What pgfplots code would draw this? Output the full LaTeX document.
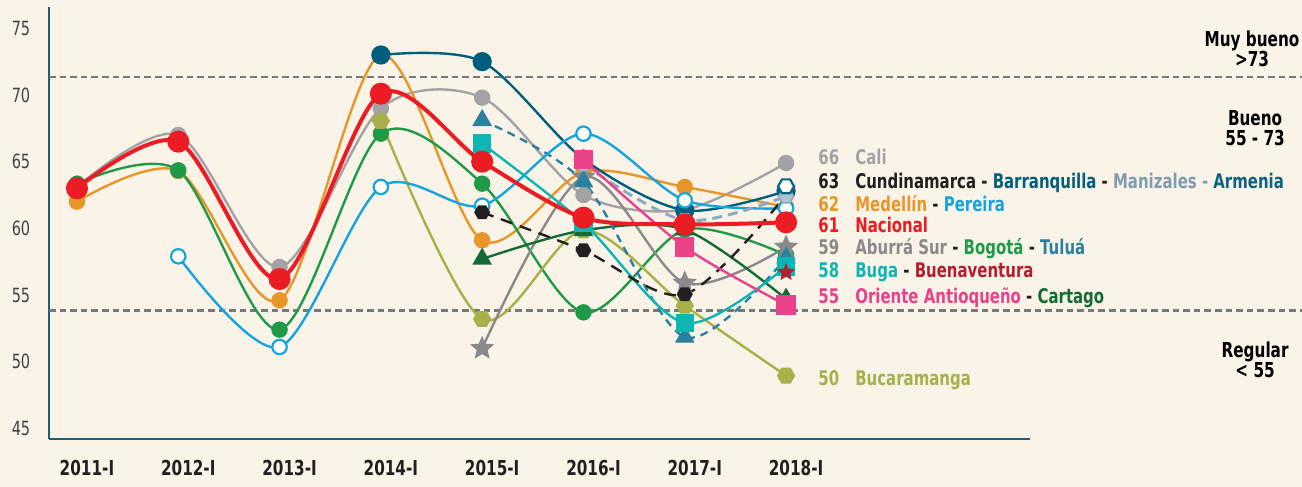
\documentclass[border=0pt]{standalone}
\usepackage{pgfplots}
\pgfplotsset{compat=1.18}
\usepackage{fontspec}
\setmainfont{DejaVu Sans}[FakeStretch=0.74]
\usetikzlibrary{plotmarks}

\definecolor{bgc}{HTML}{FAF4E8}
\definecolor{axisc}{HTML}{1D5E78}
\definecolor{dashg}{HTML}{77787B}
\definecolor{txt}{HTML}{231F20}
\definecolor{nac}{HTML}{EC1C24}
\definecolor{cali}{HTML}{A3A3A5}
\definecolor{med}{HTML}{E8952A}
\definecolor{per}{HTML}{16A4DD}
\definecolor{bog}{HTML}{1F9A49}
\definecolor{barr}{HTML}{005E7E}
\definecolor{cund}{HTML}{231F20}
\definecolor{mani}{HTML}{8FAAC0}
\definecolor{maniT}{HTML}{7E9DB4}
\definecolor{arme}{HTML}{0E6383}
\definecolor{abu}{HTML}{8A8A8C}
\definecolor{tul}{HTML}{2B7FA0}
\definecolor{buga}{HTML}{0DB5B5}
\definecolor{buen}{HTML}{B41E2E}
\definecolor{ori}{HTML}{EA4189}
\definecolor{cart}{HTML}{156A36}
\definecolor{buc}{HTML}{A9AF4A}

\pgfdeclareplotmark{hexagon*}{%
  \pgfpathmoveto{\pgfpointpolar{0}{\pgfplotmarksize}}%
  \pgfpathlineto{\pgfpointpolar{60}{\pgfplotmarksize}}%
  \pgfpathlineto{\pgfpointpolar{120}{\pgfplotmarksize}}%
  \pgfpathlineto{\pgfpointpolar{180}{\pgfplotmarksize}}%
  \pgfpathlineto{\pgfpointpolar{240}{\pgfplotmarksize}}%
  \pgfpathlineto{\pgfpointpolar{300}{\pgfplotmarksize}}%
  \pgfpathclose\pgfusepathqfillstroke}
\pgfdeclareplotmark{fstar}{%
  \pgfpathmoveto{\pgfpointpolar{90}{\pgfplotmarksize}}%
  \pgfpathlineto{\pgfpointpolar{126}{0.45\pgfplotmarksize}}%
  \pgfpathlineto{\pgfpointpolar{162}{\pgfplotmarksize}}%
  \pgfpathlineto{\pgfpointpolar{198}{0.45\pgfplotmarksize}}%
  \pgfpathlineto{\pgfpointpolar{234}{\pgfplotmarksize}}%
  \pgfpathlineto{\pgfpointpolar{270}{0.45\pgfplotmarksize}}%
  \pgfpathlineto{\pgfpointpolar{306}{\pgfplotmarksize}}%
  \pgfpathlineto{\pgfpointpolar{342}{0.45\pgfplotmarksize}}%
  \pgfpathlineto{\pgfpointpolar{18}{\pgfplotmarksize}}%
  \pgfpathlineto{\pgfpointpolar{54}{0.45\pgfplotmarksize}}%
  \pgfpathclose\pgfusepathqfillstroke}

\newcommand{\lgfont}{\fontsize{10.1bp}{11bp}\selectfont\bfseries}
\tikzset{lgn/.style={anchor=west, inner sep=0pt, text height=7.5bp, text depth=0pt, font=\lgfont, text=txt}}

\begin{document}
\begin{tikzpicture}
\fill[bgc] (-24.5bp,-24bp) rectangle (626.5bp,219.5bp);
\begin{axis}[
  at={(0,0)}, anchor=south west,
  scale only axis, width=490.5bp, height=216bp,
  xmin=-0.276, xmax=9.408, ymin=44.2, ymax=76.6,
  clip=false,
  axis x line*=bottom, axis y line*=left,
  axis line style={draw=axisc, line width=0.9bp, -},
  xtick={0,...,7},
  xticklabels={2011-I,2012-I,2013-I,2014-I,2015-I,2016-I,2017-I,2018-I},
  ytick={45,50,55,60,65,70,75},
  major tick length=0pt,
  /pgf/number format/assume math mode=true,
  xticklabel style={anchor=center, inner sep=0pt, text height=7.5bp, text depth=0pt,
     yshift=-14.5bp, xshift=5bp, font=\fontsize{10.3bp}{11bp}\selectfont\bfseries, text=txt},
  yticklabel style={anchor=center, inner sep=0pt, xshift=-14bp,
     font=\fontsize{9.8bp}{11bp}\selectfont, text=txt!85},
  every axis plot/.append style={smooth, tension=0.5, line width=1.2bp},
]
% reference lines
\addplot[dashg, line width=1.3bp, dash pattern=on 3.3bp off 2bp, sharp plot, no marks] coordinates {(-0.276,71.35) (12.2,71.35)};
\addplot[dashg, line width=1.3bp, dash pattern=on 3.3bp off 2bp, sharp plot, no marks] coordinates {(-0.276,53.85) (12.2,53.85)};

% Cali
\addplot[cali, mark=*, mark size=3.5bp, mark options={fill=cali, draw=cali}] coordinates {(0,63.1)(1,67.0)(2,57.1)(3,69.0)(4,69.8)(5,62.5)(6,61.4)(7,64.9)};
% Medellin
\addplot[med, mark=*, mark size=3.5bp, mark options={fill=med, draw=med}] coordinates {(0,62.0)(1,64.3)(2,54.6)(3,73.0)(4,59.1)(5,64.2)(6,63.1)(7,61.6)};
% Bogota
\addplot[bog, mark=*, mark size=3.5bp, mark options={fill=bog, draw=bog}] coordinates {(0,63.35)(1,64.35)(2,52.4)(3,67.1)(4,63.35)(5,53.7)(6,59.9)(7,58.0)};
% Bucaramanga
\addplot[buc, mark=hexagon*, mark size=3.9bp, mark options={fill=buc, draw=buc}] coordinates {(3,68.05)(4,53.2)(5,59.85)(6,54.2)(7,48.95)};
% Barranquilla
\addplot[barr, mark=*, mark size=4.2bp, mark options={fill=barr, draw=barr}] coordinates {(3,73.0)(4,72.5)(5,65.2)(6,61.35)(7,62.8)};
% Aburra Sur
\addplot[abu, mark=fstar, mark size=4.8bp, mark options={fill=abu, draw=abu}] coordinates {(4,51.0)(5,63.85)(6,55.9)(7,58.6)};
% Cartago
\addplot[cart, mark=triangle*, mark size=4.5bp, mark options={fill=cart, draw=cart}] coordinates {(4,57.7)(5,59.85)(6,59.9)(7,54.7)};
% Tulua
\addplot[tul, dash pattern=on 4bp off 3bp, mark=triangle*, mark size=4.5bp, mark options={solid, fill=tul, draw=tul}] coordinates {(4,68.1)(5,63.5)(6,51.85)(7,57.8)};
% Buga
\addplot[buga, mark=square*, mark size=4bp, mark options={fill=buga, draw=buga}] coordinates {(4,66.35)(5,60.4)(6,52.9)(7,57.15)};
% Pereira
\addplot[per, mark=*, mark size=3.6bp, mark options={fill=white, draw=per, line width=1.1bp}] coordinates {(1,57.9)(2,51.1)(3,63.1)(4,61.7)(5,67.1)(6,62.1)(7,61.5)};
% Cundinamarca
\addplot[cund, dash pattern=on 6bp off 4bp, mark=hexagon*, mark size=3.3bp, mark options={solid, fill=cund, draw=cund}] coordinates {(4,61.2)(5,58.35)(6,55.05)(7,62.5)};
% Manizales
\addplot[mani, line width=1.5bp, dash pattern=on 5bp off 3bp, mark=hexagon*, mark size=3.8bp, mark options={solid, fill=mani!70!white, draw=mani, line width=0.8bp}] coordinates {(5,64.8)(6,60.6)(7,62.4)};
% Oriente Antioqueno
\addplot[ori, mark=square*, mark size=4.2bp, mark options={fill=ori, draw=ori}] coordinates {(5,65.15)(6,58.6)(7,54.25)};
% Nacional
\addplot[nac, line width=2bp, mark=*, mark size=4.5bp, mark options={fill=nac, draw=nac}] coordinates {(0,63.0)(1,66.5)(2,56.2)(3,70.1)(4,65.0)(5,60.8)(6,60.3)(7,60.45)};
% Buenaventura
\addplot[buen, mark=fstar, mark size=3.2bp, mark options={fill=buen, draw=buen}] coordinates {(7,56.7)};
% Armenia
\addplot[arme, mark=hexagon*, mark size=4bp, mark options={fill=white, draw=arme, line width=1.1bp}] coordinates {(7,63.15)};

% legend texts
\node[lgn] at (7.315,65.33) {\textcolor{cali}{66}};
\node[lgn] at (7.68,65.33) {\textcolor{cali}{Cali}};
\node[lgn] at (7.315,63.54) {\textcolor{cund}{63}};
\node[lgn] at (7.68,63.54) {\textcolor{cund}{Cundinamarca} - \textcolor{barr}{Barranquilla} - \textcolor{maniT}{Manizales -} \textcolor{arme}{Armenia}};
\node[lgn] at (7.315,61.8) {\textcolor{med}{62}};
\node[lgn] at (7.68,61.8) {\textcolor{med}{Medellín} - \textcolor{per}{Pereira}};
\node[lgn] at (7.315,60.23) {\textcolor{nac}{61}};
\node[lgn] at (7.68,60.23) {\textcolor{nac}{Nacional}};
\node[lgn] at (7.315,58.58) {\textcolor{abu}{59}};
\node[lgn] at (7.68,58.58) {\textcolor{abu}{Aburrá Sur} - \textcolor{bog}{Bogotá} - \textcolor{tul}{Tuluá}};
\node[lgn] at (7.315,56.85) {\textcolor{buga}{58}};
\node[lgn] at (7.68,56.85) {\textcolor{buga}{Buga} - \textcolor{buen}{Buenaventura}};
\node[lgn] at (7.315,54.95) {\textcolor{ori}{55}};
\node[lgn] at (7.68,54.95) {\textcolor{ori}{Oriente Antioqueño} - \textcolor{cart}{Cartago}};
\node[lgn] at (7.315,48.75) {\textcolor{buc}{50}};
\node[lgn] at (7.68,48.75) {\textcolor{buc}{Bucaramanga}};

% category annotations
\node[align=center, inner sep=0pt, font=\fontsize{10.3bp}{10bp}\selectfont\bfseries, text=black] at (11.60,73.43) {Muy bueno\\>73};
\node[align=center, inner sep=0pt, font=\fontsize{10.3bp}{10bp}\selectfont\bfseries, text=black] at (11.63,67.5) {Bueno\\55 - 73};
\node[align=center, inner sep=0pt, font=\fontsize{10.3bp}{10bp}\selectfont\bfseries, text=black] at (11.63,50.17) {Regular\\< 55};
\end{axis}
\pgfresetboundingbox
\useasboundingbox (-24.5bp,-24bp) rectangle (626.5bp,219.5bp);
\end{tikzpicture}
\end{document}
